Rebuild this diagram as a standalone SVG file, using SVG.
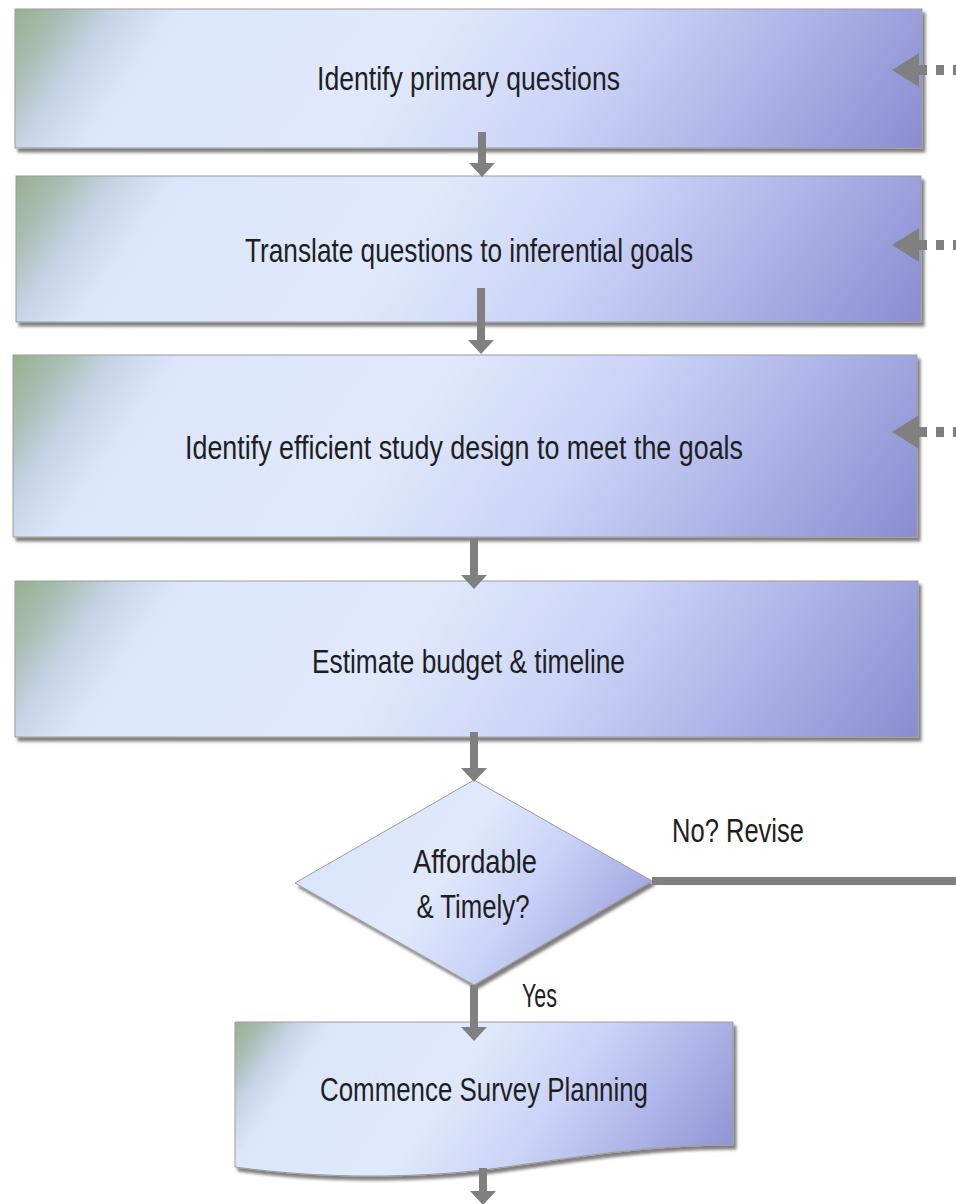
<svg xmlns="http://www.w3.org/2000/svg" width="956" height="1204" viewBox="0 0 956 1204">
<style>
.box{stroke:#9c9c9c;stroke-width:1;filter:url(#sh)}
.t{font-family:"Liberation Sans",Arial,sans-serif;font-size:33px;fill:#1e1e1e;text-anchor:middle}
.lbl{font-family:"Liberation Sans",Arial,sans-serif;font-size:33px;fill:#1e1e1e}
.arr{stroke:#808080;stroke-width:8;fill:none;marker-end:url(#ah)}
.dot{stroke:#808080;stroke-width:10;fill:none;stroke-dasharray:8 9;marker-start:url(#dh)}
.line{stroke:#808080;stroke-width:8;fill:none}
</style>
<defs>
<filter id="sh" x="-5%" y="-10%" width="115%" height="130%">
<feDropShadow dx="3" dy="4" stdDeviation="1.8" flood-color="#000" flood-opacity="0.5"/>
</filter>
<linearGradient id="g" gradientUnits="userSpaceOnUse" x1="0" y1="0" x2="1" y2="1">
<stop offset="0" stop-color="#97b08f"/>
<stop offset="0.05" stop-color="#a9beb4"/>
<stop offset="0.1" stop-color="#c6d4e6"/>
<stop offset="0.16" stop-color="#dbe5fb"/>
<stop offset="0.42" stop-color="#e0e9fc"/>
<stop offset="0.62" stop-color="#cbd3f7"/>
<stop offset="0.8" stop-color="#adb3e7"/>
<stop offset="1" stop-color="#898dd1"/>
</linearGradient>
<linearGradient id="g1" href="#g" x1="15" y1="9" x2="689" y2="481"/>
<linearGradient id="g2" href="#g" x1="16" y1="176" x2="692" y2="649"/>
<linearGradient id="g3" href="#g" x1="13" y1="355" x2="705" y2="839"/>
<linearGradient id="g4" href="#g" x1="15" y1="581" x2="694" y2="1056"/>
<linearGradient id="g5" href="#g" x1="295" y1="780" x2="631" y2="1015"/>
<linearGradient id="g6" href="#g" x1="235" y1="1022" x2="642" y2="1307"/>
<marker id="ah" markerUnits="userSpaceOnUse" markerWidth="14" markerHeight="26" viewBox="0 0 14 26" refX="0" refY="13" orient="auto">
<path d="M0,0 L14,13 L0,26 Z" fill="#808080"/>
</marker>
<marker id="dh" markerUnits="userSpaceOnUse" markerWidth="27" markerHeight="34" viewBox="0 0 27 34" refX="0" refY="17" orient="auto-start-reverse">
<path d="M0,0 L27,17 L0,34 Z" fill="#808080"/>
</marker>
</defs>

<g id="n1">
<rect class="box" x="15" y="9" width="907" height="139" fill="url(#g1)"/>
<text class="t" x="468.5" y="90" textLength="303" lengthAdjust="spacingAndGlyphs">Identify primary questions</text>
</g>
<g id="n2">
<rect class="box" x="16" y="176" width="905" height="146" fill="url(#g2)"/>
<text class="t" x="469" y="262" textLength="448" lengthAdjust="spacingAndGlyphs">Translate questions to inferential goals</text>
</g>
<g id="n3">
<rect class="box" x="13" y="355" width="904" height="182" fill="url(#g3)"/>
<text class="t" x="464" y="459" textLength="558" lengthAdjust="spacingAndGlyphs">Identify efficient study design to meet the goals</text>
</g>
<g id="n4">
<rect class="box" x="15" y="581" width="903" height="156" fill="url(#g4)"/>
<text class="t" x="468.5" y="673" textLength="313" lengthAdjust="spacingAndGlyphs">Estimate budget &amp; timeline</text>
</g>
<g id="decision">
<polygon class="box" points="474,780 652,881 474,985 295,883" fill="url(#g5)"/>
<text class="t" x="475" y="873" textLength="124" lengthAdjust="spacingAndGlyphs">Affordable</text>
<text class="t" x="473" y="918" textLength="113" lengthAdjust="spacingAndGlyphs">&amp; Timely?</text>
</g>
<g id="doc">
<path class="box" d="M235,1022 H733 V1145 C640,1145 560,1160 483,1170 C420,1177 330,1180 235,1167 Z" fill="url(#g6)"/>
<text class="t" x="484" y="1101" textLength="328" lengthAdjust="spacingAndGlyphs">Commence Survey Planning</text>
</g>

<g id="connectors">
<path class="arr" d="M482,132 V163"/>
<path class="arr" d="M481,288 V340"/>
<path class="arr" d="M474,538 V575"/>
<path class="arr" d="M474,732 V768"/>
<path class="arr" d="M474,985 V1027"/>
<path class="arr" d="M483,1168 V1191"/>
<path class="dot" d="M919,70 H962"/>
<path class="dot" d="M919,245 H962"/>
<path class="dot" d="M919,432 H962"/>
<path class="line" d="M652,881 H956"/>
<text class="lbl" x="522" y="1007" textLength="35" lengthAdjust="spacingAndGlyphs">Yes</text>
<text class="lbl" x="672" y="842" textLength="132" lengthAdjust="spacingAndGlyphs">No?  Revise</text>
</g>
</svg>
